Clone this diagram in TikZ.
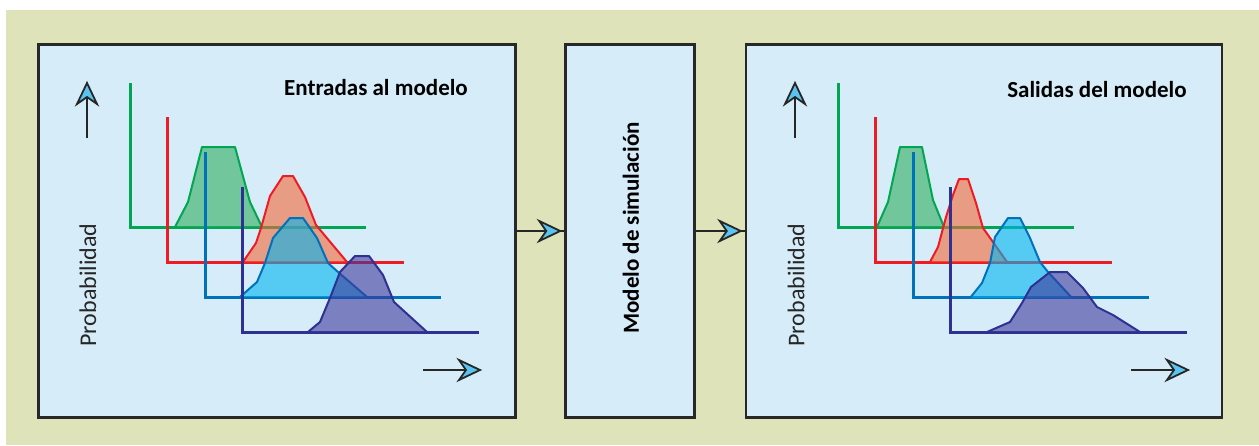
\documentclass[tikz,border=0pt]{standalone}
\usepackage{fontspec}
\setmainfont{Carlito}
\usetikzlibrary{calc}
\definecolor{bg}{RGB}{222,227,185}
\definecolor{panel}{RGB}{214,236,248}
\definecolor{frame}{RGB}{40,40,40}
\definecolor{gline}{RGB}{0,166,81}
\definecolor{gfill}{RGB}{48,173,95}
\definecolor{rline}{RGB}{237,28,36}
\definecolor{rfill}{RGB}{244,103,55}
\definecolor{bline}{RGB}{0,114,188}
\definecolor{bfill}{RGB}{0,180,238}
\definecolor{nline}{RGB}{46,49,146}
\definecolor{nfill}{RGB}{61,56,155}
\definecolor{tipfill}{RGB}{90,196,240}
\begin{document}
\begin{tikzpicture}[x=1pt,y=-1pt,
  headpic/.pic={\filldraw[fill=tipfill,draw=black!85,line width=1.8pt,line join=miter,miter limit=20] (0,0) -- (-21,10) -- (-14,0) -- (-21,-10) -- cycle;},
  panelbox/.style={draw=frame,line width=2.5pt,fill=panel,inner sep=0pt},
  axisline/.style={line width=3pt},
  dist/.style={line width=2pt,line join=round,fill opacity=0.6},
  axisarrow/.style={line width=2pt,draw=black!85},
  flowarrow/.style={line width=1.2pt,draw=black!85},
  title/.style={font=\fontsize{23}{26}\selectfont\bfseries,inner sep=0pt},
  ylab/.style={font=\fontsize{24}{28}\selectfont,rotate=90,inner sep=0pt,text=black!85}]
\useasboundingbox (0,0) rectangle (1259,445);
\fill[bg] (6,10) rectangle (1259,445);
% boxes
\node[panelbox,minimum width=477pt,minimum height=373pt] (inbox) at (277,231) {};
\node[panelbox,minimum width=129pt,minimum height=373pt] (simbox) at (630,231) {};
\node[panelbox,minimum width=476pt,minimum height=373pt] (outbox) at (984,231) {};
% flow arrows
\draw[flowarrow] (inbox.east) -- (simbox.west);
\pic at ($(simbox.west)+(-4,0)$) {headpic};
\draw[flowarrow] (simbox.east) -- (outbox.west);
\pic at ($(outbox.west)+(-4,0)$) {headpic};
% texts
\node[title] (tin) at (376,88) {Entradas al modelo};
\node[title] (tout) at (1097,90) {Salidas del modelo};
\node[title,rotate=90] (tsim) at (631,228) {Modelo de simulación};
\node[ylab] (pin) at (88,285) {Probabilidad};
\node[ylab] (pout) at (796,285) {Probabilidad};
% left panel
\coordinate (lua) at (87,138); \coordinate (lub) at (87,83);
\coordinate (lra) at (423,370); \coordinate (lrb) at (480,370);
\draw[axisarrow] (lua) -- (lub);
\pic[rotate=90] at (lub) {headpic};
\draw[axisarrow] (lra) -- (lrb);
\pic at (lrb) {headpic};
\draw[axisline,gline] (130,83) -- (130,227) -- (366,227);
\filldraw[dist,draw=gline,fill=gfill] (175,227) -- (188,202) -- (202,147) -- (235,147) -- (250,202) -- (262,227);
\draw[axisline,rline] (167,117) -- (167,262) -- (404,262);
\filldraw[dist,draw=rline,fill=rfill] (243,262) -- (256,243) -- (261,228) -- (270,196) -- (283,176) -- (293,176) -- (305,197) -- (316,225) -- (347,262);
\draw[axisline,bline] (205,152) -- (205,297) -- (441,297);
\filldraw[dist,draw=bline,fill=bfill] (240,297) -- (257,282) -- (265,263) -- (273,238) -- (290,218) -- (303,218) -- (317,238) -- (328,263) -- (338,272) -- (367,297);
\draw[axisline,nline] (242,187) -- (242,332) -- (479,332);
\filldraw[dist,draw=nline,fill=nfill] (308,332) -- (320,322) -- (330,298) -- (340,272) -- (355,256) -- (369,256) -- (383,275) -- (394,302) -- (427,332);
% right panel
\coordinate (rua) at (795,138); \coordinate (rub) at (795,83);
\coordinate (rra) at (1131,370); \coordinate (rrb) at (1188,370);
\draw[axisarrow] (rua) -- (rub);
\pic[rotate=90] at (rub) {headpic};
\draw[axisarrow] (rra) -- (rrb);
\pic at (rrb) {headpic};
\draw[axisline,gline] (838,83) -- (838,227) -- (1074,227);
\filldraw[dist,draw=gline,fill=gfill] (877,227) -- (888,202) -- (900,147) -- (922,147) -- (933,200) -- (944,227);
\draw[axisline,rline] (875,117) -- (875,262) -- (1112,262);
\filldraw[dist,draw=rline,fill=rfill] (930,262) -- (938,247) -- (946,217) -- (953,195) -- (959,179) -- (968,179) -- (976,203) -- (983,228) -- (993,242) -- (1007,262);
\draw[axisline,bline] (913,152) -- (913,297) -- (1149,297);
\filldraw[dist,draw=bline,fill=bfill] (970,298) -- (982,283) -- (990,263) -- (995,237) -- (1008,218) -- (1020,218) -- (1030,238) -- (1040,262) -- (1048,272) -- (1072,298);
\draw[axisline,nline] (950,187) -- (950,332) -- (1187,332);
\filldraw[dist,draw=nline,fill=nfill] (987,332) -- (1010,322) -- (1022,303) -- (1031,287) -- (1050,272) -- (1067,272) -- (1083,288) -- (1097,307) -- (1113,315) -- (1140,332);
\end{tikzpicture}
\end{document}
